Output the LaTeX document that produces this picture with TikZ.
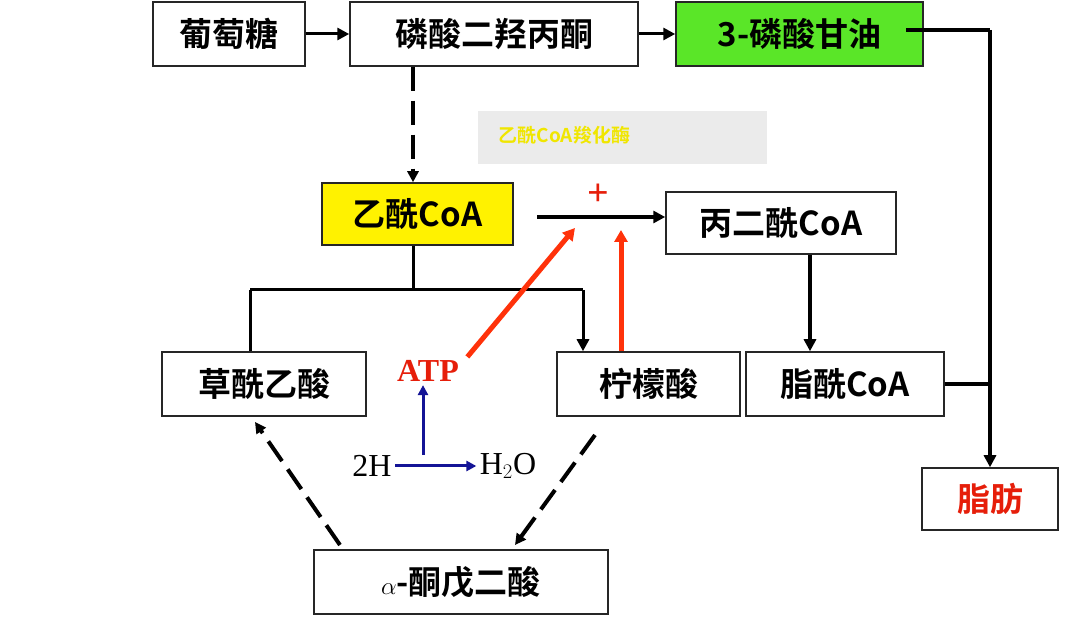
\documentclass[tikz,border=0pt]{standalone}
\usepackage{fontspec}
\setmainfont{Liberation Serif}
\newfontfamily\cjk{Noto Sans CJK SC Bold}
\usetikzlibrary{arrows.meta}
\begin{document}
\begin{tikzpicture}[x=1pt,y=-1pt,
  bx/.style={draw=black!85,line width=1.5pt,inner sep=0pt,font=\cjk\fontsize{33}{34}\selectfont},
  ar/.style={line width=4.5pt,-{Triangle[length=12pt,width=12pt]}},
  ln/.style={line width=4.5pt},
  da/.style={line width=4pt,dash pattern=on 24pt off 10pt,-{Triangle[length=11pt,width=11pt]}},
  ra/.style={line width=5pt,draw={rgb,255:red,255;green,50;blue,10},-{Triangle[length=12pt,width=13pt]}},
  ba/.style={line width=3pt,draw={rgb,255:red,20;green,20;blue,150},-{Triangle[length=10pt,width=10pt]}}]
\useasboundingbox (0,0) rectangle (1080,620);
\fill[white] (0,0) rectangle (1080,620);
\node[bx,minimum width=152pt,minimum height=64pt] (glu) at (229,34) {葡萄糖};
\node[bx,minimum width=288pt,minimum height=64pt] (dhap) at (494,34) {磷酸二羟丙酮};
\node[bx,fill={rgb,255:red,90;green,230;blue,40},minimum width=247pt,minimum height=64pt] (g3p) at (799.5,34) {3-磷酸甘油};
\node[fill=black!8,minimum width=289pt,minimum height=53pt] (enz) at (622.5,137.5) {};
\node[anchor=west,font=\cjk\fontsize{19}{20}\selectfont,text={rgb,255:red,240;green,230;blue,0}] (enzt) at (495,135) {乙酰CoA羧化酶};
\node[bx,fill=yellow,minimum width=191pt,minimum height=62pt] (aco) at (417.5,214) {乙酰CoA};
\node[bx,minimum width=230pt,minimum height=62pt] (mal) at (781,223) {丙二酰CoA};
\node[bx,minimum width=204pt,minimum height=64pt] (oaa) at (264,384) {草酰乙酸};
\node[bx,minimum width=183pt,minimum height=64pt] (cit) at (648.5,384) {柠檬酸};
\node[bx,minimum width=198pt,minimum height=64pt] (fac) at (845,384) {脂酰CoA};
\node[bx,minimum width=136pt,minimum height=62pt,text={rgb,255:red,230;green,30;blue,10}] (fat) at (990,499) {脂肪};
\node[bx,minimum width=294pt,minimum height=64pt] (akg) at (461,582) {$\alpha$-酮戊二酸};
\node[font=\bfseries\fontsize{32}{32}\selectfont,text={rgb,255:red,230;green,30;blue,10}] (atp) at (428,371) {ATP};
\node[font=\fontsize{32}{32}\selectfont] (h2) at (372,466) {2H};
\node[font=\fontsize{32}{32}\selectfont] (h2o) at (508,466) {H$_2$O};
\node[font=\bfseries\fontsize{38}{38}\selectfont,text={rgb,255:red,230;green,30;blue,10}] (plus) at (598,195) {+};
\draw[ar,line width=3pt] (glu) -- (dhap);
\draw[ar,line width=3pt] (dhap) -- (g3p);
\draw[da] (dhap.south-|413,0) -- (aco.north-|413,0);
\coordinate (rj) at (990,30);
\draw[ln] (906,30) -- (rj);
\draw[ar] (rj) -- (fat.north);
\draw[ln] (fac.east) -- (fac.east-|rj);
\coordinate (ma) at (537,217);
\coordinate (mb) at (mal.west|-ma);
\draw[ar] (ma) -- (mb);
\coordinate (j1) at (413,290);
\draw[ln,line width=3pt] (aco.south-|j1) -- (j1);
\draw[ln,line width=3pt] (250,290) -- (583,290);
\draw[ln,line width=3pt] (250,290) -- (oaa.north-|250,0);
\draw[ar,line width=3pt] (583,290) -- (cit.north-|583,0);
\draw[ar] (mal.south-|810,0) -- (fac.north-|810,0);
\draw[ra] (atp.north east) ++(5,0) -- (575,228);
\draw[ra] (cit.north-|621,0) -- (621,230);
\draw[ba] (h2.east) -- (h2o.west);
\draw[ba] (423,455) -- (atp.south-|423,0);
\draw[da] (340,545) -- (255,422);
\draw[da] (595,435) -- (515,545);
\end{tikzpicture}
\end{document}
